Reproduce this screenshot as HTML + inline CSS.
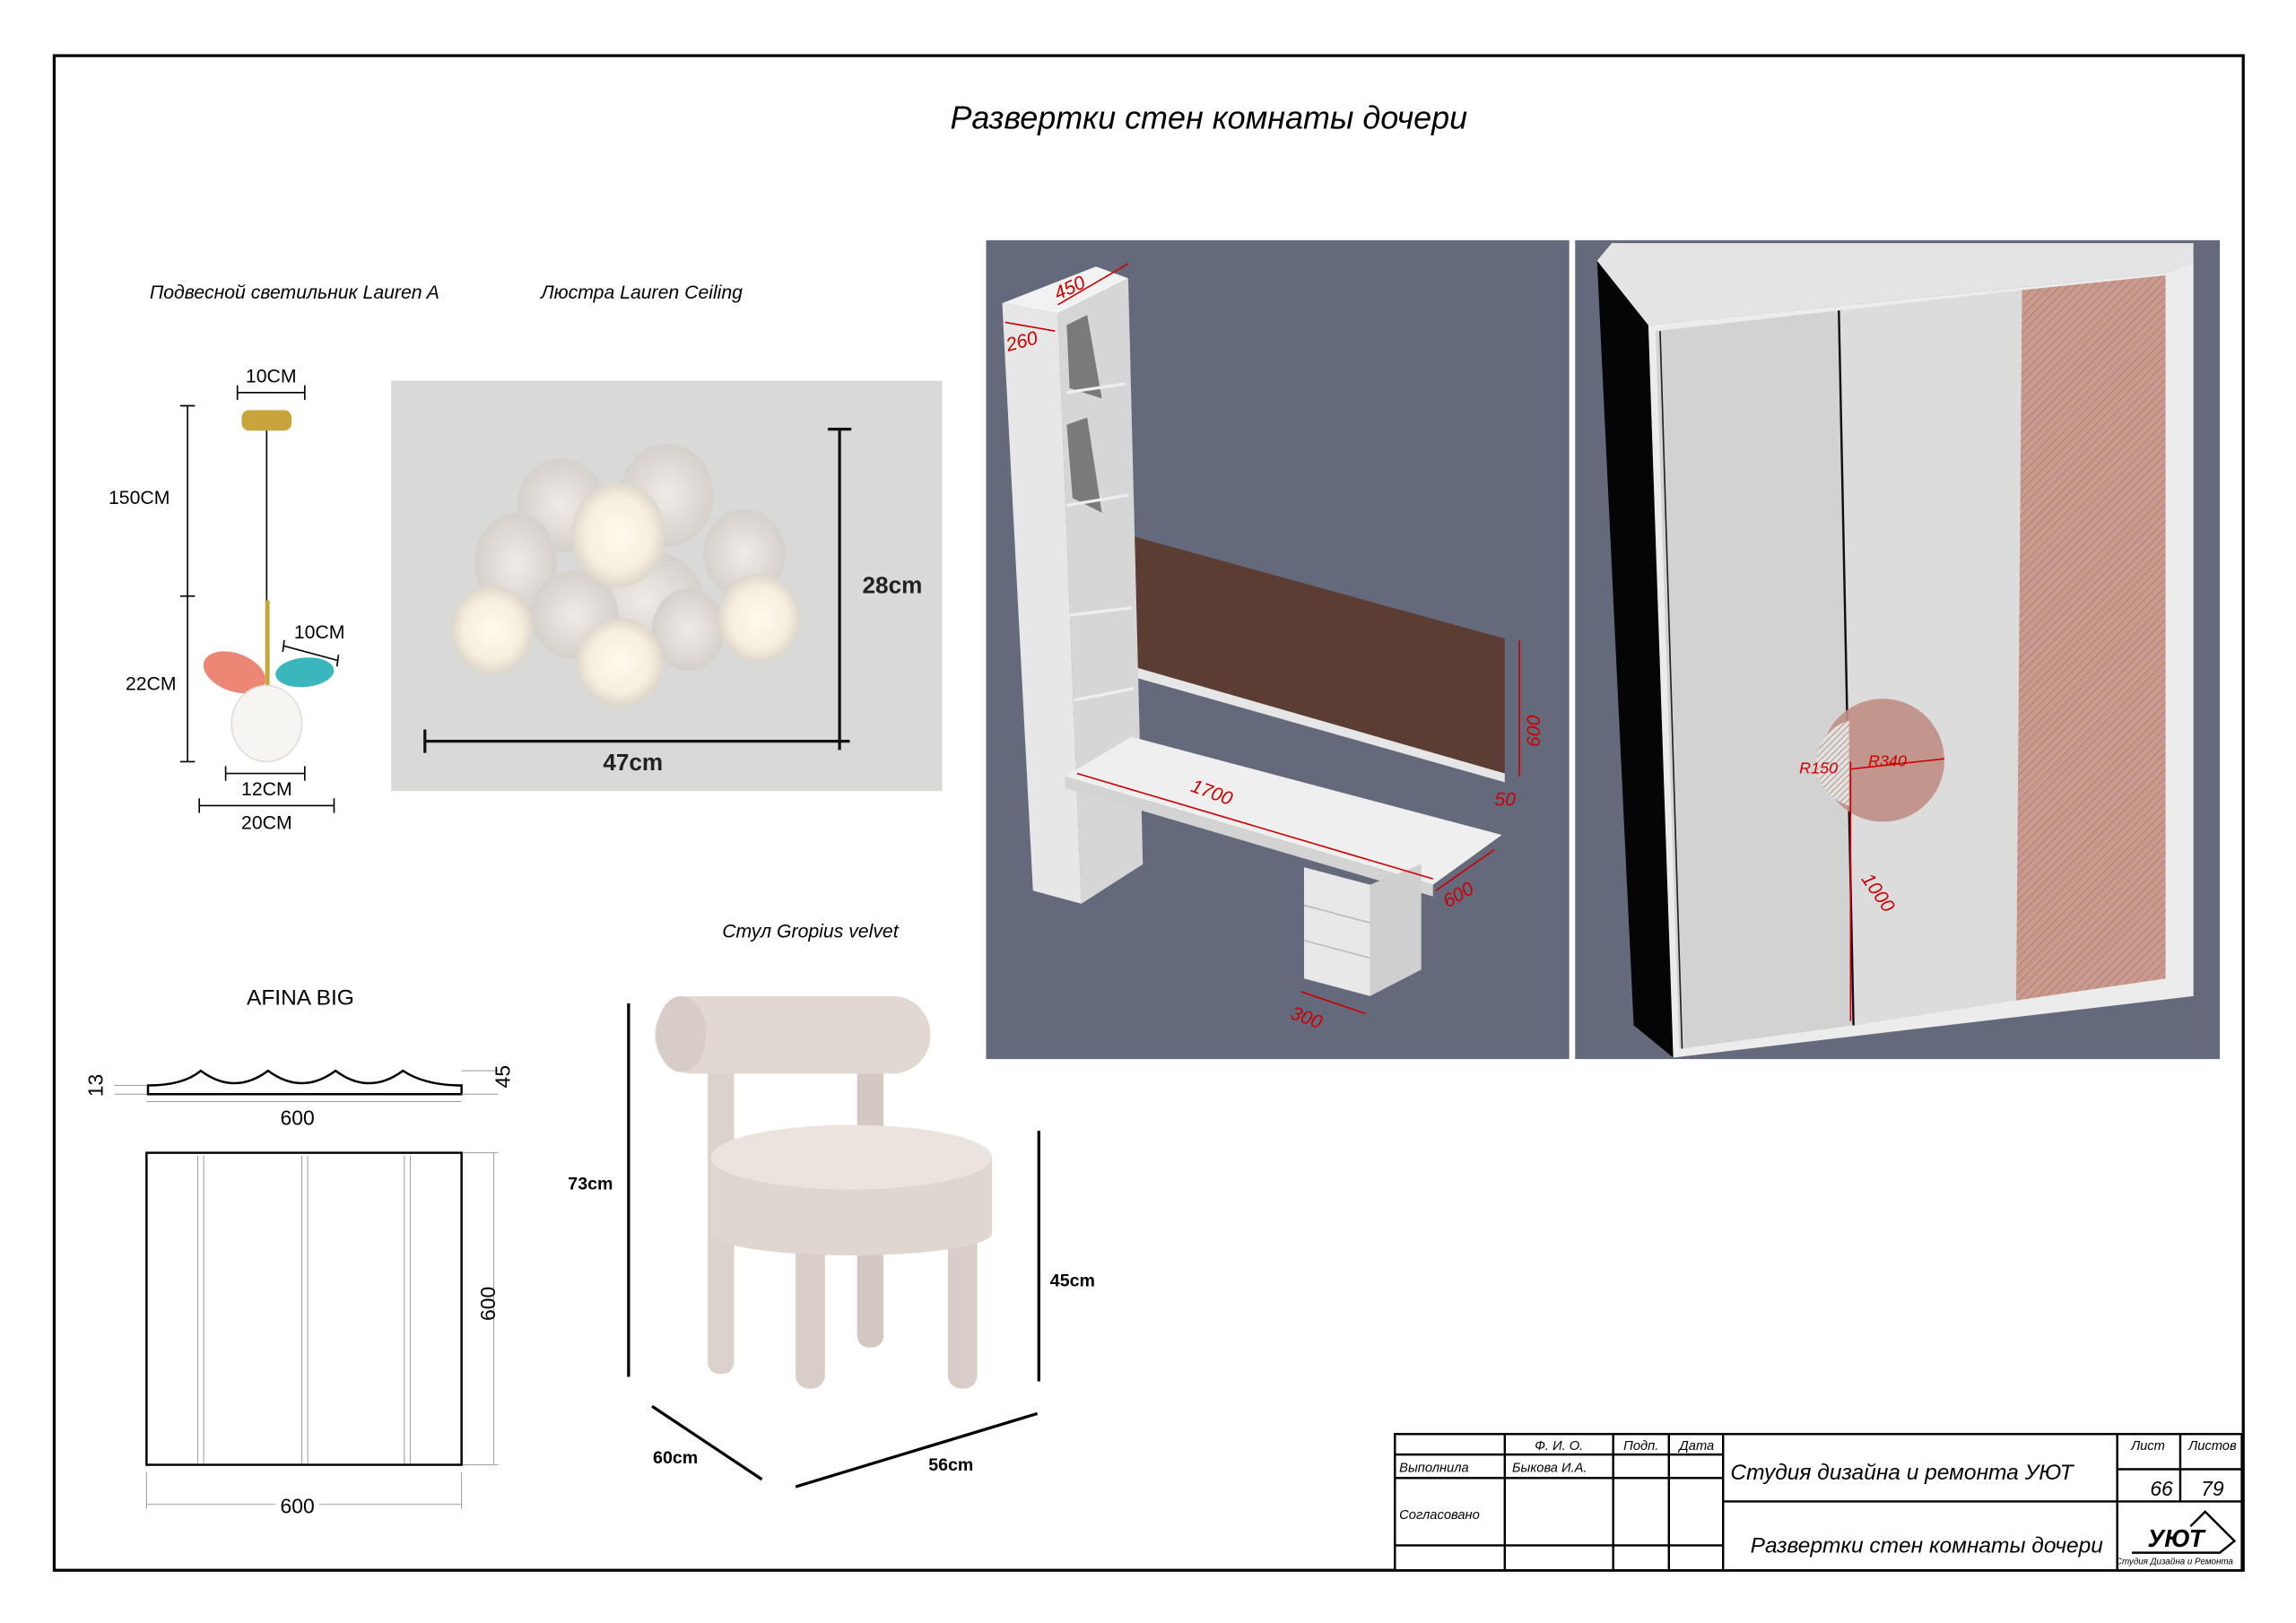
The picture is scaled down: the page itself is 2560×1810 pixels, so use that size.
<!DOCTYPE html>
<html><head><meta charset="utf-8"><style>
html,body{margin:0;padding:0;background:#fff;width:2560px;height:1810px;overflow:hidden}
svg{display:block}
text{font-family:"Liberation Sans Narrow","Liberation Sans","DejaVu Sans",sans-serif}
.it{font-style:italic}
</style></head><body>
<svg width="2560" height="1810" viewBox="0 0 1567 1108" preserveAspectRatio="none" xmlns="http://www.w3.org/2000/svg">
<defs>
<pattern id="hatch" width="4" height="4" patternUnits="userSpaceOnUse" patternTransform="rotate(45)">
<rect width="4" height="4" fill="#c99a8e"/><line x1="0" y1="0" x2="0" y2="4" stroke="#b58276" stroke-width="1.5"/></pattern>
<pattern id="hatch2" width="3" height="3" patternUnits="userSpaceOnUse" patternTransform="rotate(45)">
<rect width="3" height="3" fill="#e4e0de"/><line x1="0" y1="0" x2="0" y2="3" stroke="#a08880" stroke-width="1"/></pattern>
<radialGradient id="glob" cx="50%" cy="50%" r="50%"><stop offset="0" stop-color="#fffbee"/><stop offset="0.7" stop-color="#f6eedd"/><stop offset="1" stop-color="#ddd6cc"/></radialGradient>
<radialGradient id="glob2" cx="50%" cy="50%" r="50%"><stop offset="0" stop-color="#f0ebe6"/><stop offset="1" stop-color="#d6d0cb"/></radialGradient>
</defs>
<rect x="37" y="38" width="1494" height="1034" fill="none" stroke="#000" stroke-width="2"/>
<text x="825" y="88" font-size="22" text-anchor="middle" class="it">Развертки стен комнаты дочери</text>

<text x="201" y="204" font-size="13" text-anchor="middle" class="it">Подвесной светильник Lauren A</text>
<text x="438" y="204" font-size="13" text-anchor="middle" class="it">Люстра Lauren Ceiling</text>

<g stroke="#000" stroke-width="1">
<line x1="162" y1="268" x2="208" y2="268"/><line x1="162" y1="263" x2="162" y2="273"/><line x1="208" y1="263" x2="208" y2="273"/>
<line x1="128" y1="277" x2="128" y2="520"/><line x1="123" y1="277" x2="133" y2="277"/><line x1="123" y1="407" x2="133" y2="407"/><line x1="123" y1="520" x2="133" y2="520"/>
<line x1="182" y1="290" x2="182" y2="410"/>
<line x1="154" y1="528" x2="208" y2="528"/><line x1="154" y1="523" x2="154" y2="533"/><line x1="208" y1="523" x2="208" y2="533"/>
<line x1="136" y1="550" x2="228" y2="550"/><line x1="136" y1="545" x2="136" y2="555"/><line x1="228" y1="545" x2="228" y2="555"/>
<line x1="194" y1="441" x2="231" y2="451"/><line x1="194" y1="437" x2="193" y2="445"/><line x1="231" y1="447" x2="230" y2="455"/>
</g>
<rect x="165" y="280" width="34" height="14" rx="5" fill="#c9a43a"/>
<rect x="181" y="410" width="3" height="60" fill="#c9a43a"/>
<ellipse cx="160" cy="459" rx="22" ry="13" transform="rotate(20 160 459)" fill="#ec8776"/>
<ellipse cx="208" cy="459" rx="20" ry="10" transform="rotate(-5 208 459)" fill="#3bb6bc"/>
<ellipse cx="182" cy="494" rx="24" ry="26" fill="#f6f5f2" stroke="#ddd"/>
<g font-size="13" text-anchor="middle"><text x="185" y="261">10CM</text><text x="95" y="344">150CM</text><text x="103" y="471">22CM</text><text x="218" y="436">10CM</text><text x="182" y="543">12CM</text><text x="182" y="566">20CM</text></g>

<rect x="267" y="260" width="376" height="280" fill="#d9d9d8"/>
<g>
<ellipse cx="383" cy="345" rx="30" ry="32" fill="url(#glob2)"/>
<ellipse cx="455" cy="338" rx="32" ry="35" fill="url(#glob2)"/>
<ellipse cx="352" cy="385" rx="28" ry="35" fill="url(#glob2)"/>
<ellipse cx="508" cy="378" rx="28" ry="30" fill="url(#glob2)"/>
<ellipse cx="440" cy="410" rx="40" ry="35" fill="url(#glob2)"/>
<ellipse cx="392" cy="420" rx="30" ry="30" fill="url(#glob2)"/>
<ellipse cx="470" cy="430" rx="25" ry="28" fill="url(#glob2)"/>
<ellipse cx="422" cy="365" rx="32" ry="36" fill="url(#glob)"/>
<ellipse cx="336" cy="430" rx="28" ry="30" fill="url(#glob)"/>
<ellipse cx="518" cy="422" rx="28" ry="30" fill="url(#glob)"/>
<ellipse cx="423" cy="452" rx="30" ry="30" fill="url(#glob)"/>
</g>
<g stroke="#111" stroke-width="2"><line x1="573" y1="293" x2="573" y2="512"/><line x1="565" y1="293" x2="581" y2="293"/><line x1="290" y1="506" x2="580" y2="506"/><line x1="290" y1="498" x2="290" y2="514"/></g>
<text x="609" y="405" font-size="16" font-weight="bold" text-anchor="middle" fill="#222">28cm</text>
<text x="432" y="526" font-size="16" font-weight="bold" text-anchor="middle" fill="#222">47cm</text>

<rect x="673" y="164" width="398" height="559" fill="#646a7c"/>
<polygon points="773,366 1027,436 1027,528 773,455" fill="#5b3d33"/>
<polygon points="773,455 1027,528 1027,534 773,462" fill="#e6e6e6"/>
<polygon points="684,207 748,182 770,190 722,214" fill="#f2f2f2"/>
<polygon points="684,207 722,214 738,617 705,608" fill="#e7e7e7"/>
<polygon points="722,214 770,190 780,590 738,617" fill="#d6d6d6"/>
<polygon points="728,222 742,215 752,272 730,265" fill="#7a7a7a"/>
<polygon points="728,290 742,285 752,350 732,340" fill="#7a7a7a"/>
<g stroke="#eee" stroke-width="2"><line x1="728" y1="268" x2="768" y2="262"/><line x1="728" y1="345" x2="770" y2="338"/><line x1="730" y1="420" x2="772" y2="415"/><line x1="733" y1="478" x2="774" y2="470"/></g>
<polygon points="727,530 772,503 1025,570 978,604" fill="#efefef"/>
<polygon points="727,530 978,604 978,612 727,538" fill="#d3d3d3"/>
<polygon points="890,592 935,604 935,680 890,668" fill="#e8e8e8"/>
<polygon points="935,604 970,590 970,662 935,680" fill="#cfcfcf"/>
<g stroke="#bbb"><line x1="890" y1="618" x2="935" y2="630"/><line x1="890" y1="642" x2="935" y2="654"/></g>

<rect x="1075" y="164" width="440" height="559" fill="#646a7c"/>
<polygon points="1090,178 1125,222 1142,722 1115,700" fill="#050505"/>
<polygon points="1090,178 1100,166 1497,166 1497,178 1480,186 1125,222" fill="#e4e4e4"/>
<polygon points="1125,222 1480,186 1497,178 1497,680 1142,722" fill="#ececec"/>
<polygon points="1130,226 1255,212 1265,700 1146,716" fill="#d2d2d2"/>
<polygon points="1255,212 1380,198 1376,683 1265,700" fill="#dcdcdc"/>
<polygon points="1380,198 1478,188 1478,668 1376,683" fill="url(#hatch)"/>
<line x1="1255" y1="212" x2="1265" y2="700" stroke="#111" stroke-width="1.5"/>
<line x1="1133" y1="226" x2="1148" y2="716" stroke="#222" stroke-width="1"/>
<circle cx="1285" cy="519" r="42" fill="#c08e84" opacity="0.9"/>
<path d="M1262,492 A30,30 0 0 0 1262,550 Z" fill="url(#hatch2)"/>

<g stroke="#c00" stroke-width="1" fill="none">
<line x1="722" y1="208" x2="770" y2="180"/><line x1="686" y1="220" x2="720" y2="226"/>
<line x1="735" y1="528" x2="978" y2="600"/><line x1="980" y1="608" x2="1020" y2="580"/>
<line x1="1037" y1="437" x2="1037" y2="530"/><line x1="888" y1="677" x2="932" y2="692"/>
<line x1="1263" y1="520" x2="1263" y2="697"/><line x1="1263" y1="525" x2="1327" y2="518"/>
</g>
<g fill="#c00" font-size="13" class="it"><text x="722" y="205" transform="rotate(-25 722 205)">450</text><text x="688" y="240" transform="rotate(-15 688 240)">260</text>
<text x="812" y="540" transform="rotate(20 812 540)">1700</text><text x="988" y="620" transform="rotate(-30 988 620)">600</text>
<text x="1043" y="508" transform="rotate(-90 1048 505)">600</text><text x="1020" y="550">50</text><text x="880" y="695" transform="rotate(20 880 695)">300</text>
<text x="1228" y="528" font-size="11">R150</text><text x="1275" y="523" font-size="11">R340</text><text x="1270" y="600" transform="rotate(55 1270 600)">1000</text></g>

<text x="205" y="686" font-size="15" text-anchor="middle" font-family="Liberation Sans">AFINA BIG</text>
<path d="M101,747 L101,741 Q125,741 137,731 Q160,748 183,731 Q206,748 229,731 Q252,748 275,731 Q290,741 315,741 L315,747 Z" fill="#fff" stroke="#000" stroke-width="1.5"/>
<g stroke="#999" stroke-width="0.6"><line x1="100" y1="752" x2="315" y2="752"/><line x1="78" y1="741" x2="100" y2="741"/><line x1="78" y1="747" x2="100" y2="747"/><line x1="315" y1="731" x2="340" y2="731"/><line x1="315" y1="747" x2="340" y2="747"/>
<line x1="100" y1="1027" x2="315" y2="1027"/><line x1="337" y1="787" x2="337" y2="1000"/><line x1="315" y1="787" x2="340" y2="787"/><line x1="315" y1="1000" x2="340" y2="1000"/><line x1="100" y1="1005" x2="100" y2="1030"/><line x1="315" y1="1005" x2="315" y2="1030"/>
<line x1="135" y1="789" x2="135" y2="999"/><line x1="139" y1="789" x2="139" y2="999"/><line x1="206" y1="789" x2="206" y2="999"/><line x1="210" y1="789" x2="210" y2="999"/><line x1="276" y1="789" x2="276" y2="999"/><line x1="280" y1="789" x2="280" y2="999"/></g>
<rect x="100" y="787" width="215" height="213" fill="none" stroke="#000" stroke-width="1.5"/>
<g font-size="14" font-family="Liberation Sans" text-anchor="middle"><rect x="188" y="755" width="30" height="14" fill="#fff"/><text x="203" y="768">600</text>
<rect x="188" y="1020" width="30" height="14" fill="#fff"/><text x="203" y="1033">600</text>
<text x="75" y="746" transform="rotate(-90 70 746)">13</text><text x="353" y="740" transform="rotate(-90 348 740)">45</text>
<text x="343" y="895" transform="rotate(-90 338 895)">600</text></g>

<text x="553" y="640" font-size="13" text-anchor="middle" class="it">Стул Gropius velvet</text>
<rect x="483" y="720" width="18" height="218" rx="8" fill="#dcd2cc"/>
<rect x="585" y="720" width="18" height="200" rx="8" fill="#d3c8c2"/>
<rect x="543" y="820" width="20" height="128" rx="9" fill="#d8cdc7"/>
<rect x="647" y="820" width="20" height="128" rx="9" fill="#d8cdc7"/>
<rect x="447" y="680" width="188" height="53" rx="26" fill="#e2d8d2"/>
<ellipse cx="465" cy="706" rx="17" ry="26" fill="#d8cdc6"/>
<rect x="485" y="790" width="192" height="52" fill="#e0d6d0"/>
<ellipse cx="581" cy="842" rx="96" ry="15" fill="#e0d6d0"/>
<ellipse cx="581" cy="790" rx="96" ry="22" fill="#ebe3de"/>
<g stroke="#000" stroke-width="2"><line x1="429" y1="685" x2="429" y2="940"/><line x1="709" y1="772" x2="709" y2="943"/><line x1="445" y1="960" x2="520" y2="1010"/><line x1="543" y1="1015" x2="708" y2="965"/></g>
<g font-size="12" font-weight="bold" font-family="Liberation Sans" text-anchor="middle"><text x="403" y="812">73cm</text><text x="732" y="878">45cm</text><text x="461" y="999">60cm</text><text x="649" y="1004">56cm</text></g>

<rect x="952" y="979" width="578" height="93" fill="#fff"/>
<g stroke="#000" stroke-width="1.5" fill="none">
<rect x="952" y="979" width="578" height="93"/>
<line x1="1027" y1="979" x2="1027" y2="1072"/><line x1="1101" y1="979" x2="1101" y2="1072"/><line x1="1139" y1="979" x2="1139" y2="1072"/><line x1="1176" y1="979" x2="1176" y2="1072"/>
<line x1="952" y1="993" x2="1176" y2="993"/><line x1="952" y1="1009" x2="1176" y2="1009"/><line x1="952" y1="1055" x2="1176" y2="1055"/>
<line x1="1445" y1="979" x2="1445" y2="1072"/><line x1="1488" y1="979" x2="1488" y2="1025"/><line x1="1176" y1="1025" x2="1530" y2="1025"/><line x1="1445" y1="1003" x2="1530" y2="1003"/>
</g>
<g class="it" font-size="9"><text x="1064" y="990" text-anchor="middle">Ф. И. О.</text><text x="1120" y="990" text-anchor="middle">Подп.</text><text x="1158" y="990" text-anchor="middle">Дата</text>
<text x="955" y="1005">Выполнила</text><text x="1032" y="1005">Быкова И.А.</text><text x="955" y="1037">Согласовано</text>
<text x="1466" y="990" text-anchor="middle">Лист</text><text x="1510" y="990" text-anchor="middle">Листов</text></g>
<g class="it"><text x="1298" y="1010" font-size="15" text-anchor="middle">Студия дизайна и ремонта УЮТ</text>
<text x="1315" y="1060" font-size="15" text-anchor="middle">Развертки стен комнаты дочери</text>
<text x="1483" y="1021" font-size="14" text-anchor="end">66</text><text x="1510" y="1021" font-size="14" text-anchor="middle">79</text>
<text x="1485" y="1056" font-size="17" font-weight="bold" text-anchor="middle" font-family="Liberation Serif">УЮТ</text>
<text x="1484" y="1068" font-size="6" text-anchor="middle">Студия Дизайна и Ремонта</text></g>
<polyline points="1455,1060 1515,1060 1525,1052 1505,1032 1495,1042" fill="none" stroke="#000" stroke-width="1.5"/>
</svg>
</body></html>
